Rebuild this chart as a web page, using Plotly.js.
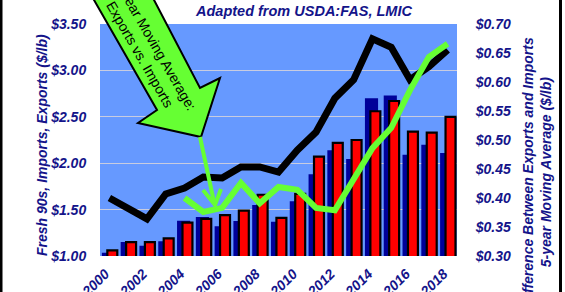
<!DOCTYPE html>
<html>
<head>
<meta charset="utf-8">
<script src="https://cdn.plot.ly/plotly-3.0.1.min.js"></script>
<style>html,body{margin:0;padding:0;background:#fff;}#chart{width:565px;height:292px;}</style>
</head>
<body>
<div id="chart"></div>
<script>
// ---- data ----
var years = [2000,2001,2002,2003,2004,2005,2006,2007,2008,2009,2010,2011,2012,2013,2014,2015,2016,2017,2018];
var imports = [1.035,1.15,1.11,1.16,1.38,1.42,1.32,1.377,1.55,1.37,1.59,1.88,2.14,2.045,2.70,2.73,2.09,2.20,2.11];
var exports = [1.06,1.15,1.15,1.19,1.36,1.40,1.44,1.49,1.66,1.41,1.67,2.07,2.22,2.25,2.56,2.67,2.34,2.33,2.50];
var fresh90s = [1.625,1.517,1.40,1.668,1.733,1.851,1.84,1.96,1.96,1.905,2.14,2.336,2.70,2.90,3.34,3.25,2.90,3.04,3.22];
var maYears = [2004,2005,2006,2007,2008,2009,2010,2011,2012,2013,2014,2015,2016,2017,2018];
var spread5yr = [0.400,0.376,0.383,0.426,0.391,0.419,0.414,0.383,0.379,0.431,0.486,0.521,0.586,0.643,0.666];
var xTickVals = [2000,2002,2004,2006,2008,2010,2012,2014,2016,2018];
var xTickText = ['2000','2002','2004','2006','2008','2010','2012','2014','2016','2018'];

// ---- layout helpers ----
var W = 565, H = 292;
var M = {l: 100, r: 108, t: 24, b: 36};
var PW = W - M.l - M.r, PH = H - M.t - M.b;
function px(x) { return (x - M.l) / PW; }
function py(y) { return (H - M.b - y) / PH; }
function path(pts) {
  return pts.map(function (p, i) { return (i ? 'L' : 'M') + px(p[0]).toFixed(4) + ',' + py(p[1]).toFixed(4); }).join(' ') + ' Z';
}
function openPath(pts) {
  return pts.map(function (p, i) { return (i ? 'L' : 'M') + px(p[0]).toFixed(4) + ',' + py(p[1]).toFixed(4); }).join(' ');
}

var navy = '#14148a';
var tickFont = {family: 'Liberation Sans, Arial, sans-serif', size: 14, color: navy, weight: 'bold', style: 'italic'};

var traces = [
  {type: 'bar', x: years, y: imports, offset: -0.40, width: 0.70,
   marker: {color: '#000099', line: {width: 0}}, yaxis: 'y', hoverinfo: 'skip'},
  {type: 'bar', x: years, y: exports, offset: -0.11, width: 0.53,
   marker: {color: '#ff0000', line: {width: 2.2, color: '#000000'}}, yaxis: 'y', hoverinfo: 'skip'},
  {type: 'scatter', mode: 'lines', x: years, y: fresh90s,
   line: {color: '#000000', width: 7}, yaxis: 'y', hoverinfo: 'skip'},
  {type: 'scatter', mode: 'lines', x: maYears, y: spread5yr,
   line: {color: '#66ff33', width: 6}, yaxis: 'y2', hoverinfo: 'skip'}
];

var arrowPts = [[88.3,-10],[157,110],[138,123],[201,137],[220,78],[200,88],[148.8,-10]];

var layout = {
  width: W, height: H,
  margin: M,
  paper_bgcolor: '#ffffff',
  plot_bgcolor: '#6699ff',
  showlegend: false,
  barmode: 'overlay',
  hovermode: false,
  xaxis: {
    range: [1999.5, 2018.5], tickvals: xTickVals, ticktext: xTickText, tickangle: -45,
    tickfont: tickFont, showgrid: false, zeroline: false, showline: false, ticks: '',
    ticklabelshift: -4, ticklabelstandoff: 6
  },
  yaxis: {
    range: [1.0, 3.5], dtick: 0.5, tick0: 1.0, tickprefix: '$', tickformat: '.2f',
    tickfont: tickFont, showgrid: true, gridcolor: '#c8cce0', gridwidth: 1,
    zeroline: false, showline: false, ticks: 'outside', ticklen: 10, tickcolor: 'rgba(0,0,0,0)'
  },
  yaxis2: {
    range: [0.30, 0.70], dtick: 0.05, tick0: 0.30, tickprefix: '$', tickformat: '.2f',
    overlaying: 'y', side: 'right', tickfont: tickFont, showgrid: false,
    zeroline: false, showline: false, ticks: 'outside', ticklen: 15, tickcolor: 'rgba(0,0,0,0)'
  },
  shapes: [
    {type: 'path', xref: 'paper', yref: 'paper', path: path(arrowPts),
     fillcolor: '#66ff33', line: {color: '#000000', width: 2}, layer: 'above'},
    {type: 'path', xref: 'paper', yref: 'paper', path: openPath([[200,137],[214,202]]),
     line: {color: '#66ff33', width: 4}, layer: 'above'},
    {type: 'path', xref: 'paper', yref: 'paper', path: openPath([[203,190],[215,205],[221,189]]),
     line: {color: '#66ff33', width: 4}, layer: 'above'},
    {type: 'rect', xref: 'paper', yref: 'paper', x0: px(0), x1: px(2.5), y0: py(H), y1: py(0),
     fillcolor: '#000000', line: {width: 0}, layer: 'above'},
    {type: 'rect', xref: 'paper', yref: 'paper', x0: px(559), x1: px(562), y0: py(H), y1: py(0),
     fillcolor: '#000000', line: {width: 0}, layer: 'above'}
  ],
  annotations: [
    {xref: 'paper', yref: 'paper', x: px(303), y: py(11), xanchor: 'center', yanchor: 'middle',
     text: 'Adapted from USDA:FAS, LMIC', showarrow: false,
     font: {family: 'Liberation Sans, Arial, sans-serif', size: 14.5, color: navy, weight: 'bold', style: 'italic'}},
    {xref: 'paper', yref: 'paper', x: px(42), y: py(145), xanchor: 'center', yanchor: 'middle',
     text: 'Fresh 90s, Imports, Exports ($/lb)', textangle: -90, showarrow: false,
     font: {family: 'Liberation Sans, Arial, sans-serif', size: 14, color: navy, weight: 'bold', style: 'italic'}},
    {xref: 'paper', yref: 'paper', x: px(537), y: py(172), xanchor: 'center', yanchor: 'middle',
     text: 'Difference Between Exports and Imports<br>5-year Moving Average ($/lb)', textangle: -90, showarrow: false,
     font: {family: 'Liberation Sans, Arial, sans-serif', size: 14, color: navy, weight: 'bold', style: 'italic'}},
    {xref: 'paper', yref: 'paper', x: px(148), y: py(50), xanchor: 'center', yanchor: 'middle',
     text: '5-year Moving Average:<br>Exports vs. Imports', textangle: 60, showarrow: false,
     font: {family: 'Liberation Sans, Arial, sans-serif', size: 14, color: '#000000'}}
  ]
};

Plotly.newPlot('chart', traces, layout, {displayModeBar: false, staticPlot: true});
</script>
</body>
</html>
